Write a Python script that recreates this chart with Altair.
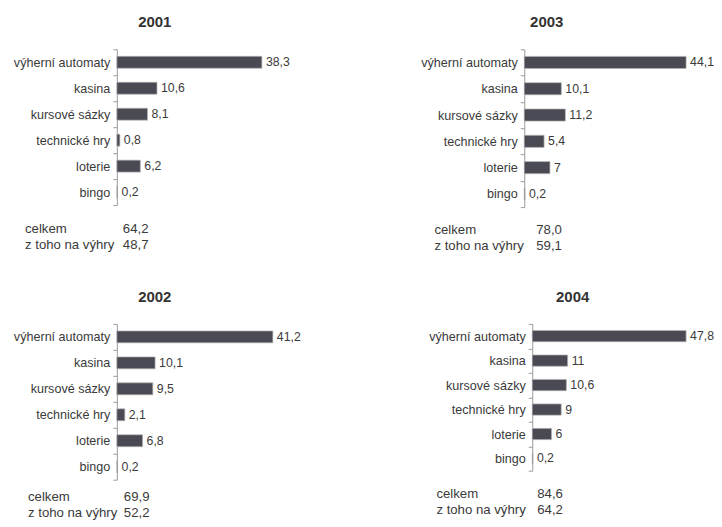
import altair as alt
import pandas as pd

categories = ["výherní automaty", "kasina", "kursové sázky", "technické hry", "loterie", "bingo"]
years = ["2001", "2002", "2003", "2004"]
values_2001 = [38.3, 10.6, 8.1, 0.8, 6.2, 0.2]
values_2002 = [41.2, 10.1, 9.5, 2.1, 6.8, 0.2]
values_2003 = [44.1, 10.1, 11.2, 5.4, 7, 0.2]
values_2004 = [47.8, 11, 10.6, 9, 6, 0.2]
summary_labels = ["celkem", "z toho na výhry"]
celkem = [64.2, 69.9, 78.0, 84.6]
na_vyhry = [48.7, 52.2, 59.1, 64.2]

FONT = "Liberation Sans"
BAR = "#4a4a54"
TEXT = "#3a3a3a"
AXIS = "#9c9c9c"


def cz(v, fixed=False):
    if fixed:
        s = f"{v:.1f}"
    elif isinstance(v, int):
        s = str(v)
    else:
        s = f"{v:g}"
    return s.replace(".", ",")


def panel(year, vals, total, wins, width, height, xmax, title_dx, lab_x, val_x, sum_dy):
    df = pd.DataFrame({
        "kategorie": categories,
        "hodnota": vals,
        "popisek": [cz(v) for v in vals],
    })
    y = alt.Y(
        "kategorie:N", sort=categories, title=None,
        scale=alt.Scale(paddingInner=0, paddingOuter=0),
        axis=alt.Axis(
            domainColor=AXIS, domainWidth=1, tickColor=AXIS, tickSize=4,
            tickBand="extent", labelFont=FONT, labelFontSize=12.6,
            labelColor=TEXT, labelPadding=3, minExtent=107, maxExtent=107,
            labelLimit=200,
        ),
    )
    x = alt.X("hodnota:Q", scale=alt.Scale(domain=[0, xmax], nice=False), axis=None)
    base = alt.Chart(df).encode(y=y, x=x)
    bars = base.mark_bar(
        fill=BAR, stroke="#b4b4b4", strokeWidth=0.7,
        height=alt.RelativeBandSize(0.46),
    )
    labels = base.mark_text(
        align="left", baseline="middle", dx=4, font=FONT, fontSize=12.3, color=TEXT
    ).encode(text="popisek:N")
    sdf = pd.DataFrame({
        "popis": ["\n".join(summary_labels)],
        "cislo": ["\n".join([cz(total, True), cz(wins, True)])],
    })
    s1 = alt.Chart(sdf).mark_text(
        align="left", baseline="top", font=FONT, fontSize=13.2, color=TEXT,
        lineBreak="\n", lineHeight=16,
    ).encode(x=alt.value(lab_x), y=alt.value(height + sum_dy), text="popis:N")
    s2 = alt.Chart(sdf).mark_text(
        align="left", baseline="top", font=FONT, fontSize=13.2, color=TEXT,
        lineBreak="\n", lineHeight=16,
    ).encode(x=alt.value(val_x), y=alt.value(height + sum_dy), text="cislo:N")
    return alt.layer(bars, labels, s1, s2).properties(
        width=width, height=height,
        title=alt.TitleParams(
            text=year, font=FONT, fontSize=15, fontWeight="bold", color="#333333",
            anchor="middle", frame="group", offset=13, dx=title_dx,
        ),
    )


p2001 = panel(years[0], values_2001, celkem[0], na_vyhry[0], 190, 156, 50.1, -57, -92, 6, 18)
p2003 = panel(years[2], values_2003, celkem[2], na_vyhry[2], 165, 158, 44.9, -60, -90, 12, 17)
p2002 = panel(years[1], values_2002, celkem[1], na_vyhry[1], 190, 156, 50.1, -57, -89, 7, 11)
p2004 = panel(years[3], values_2004, celkem[3], na_vyhry[3], 165, 147, 51.2, -42, -96, 5, 17)

top = alt.hconcat(p2001, p2003, spacing=111)
bottom = alt.hconcat(p2002, p2004, spacing=119)

chart = alt.vconcat(top, bottom, spacing=37).properties(
    padding={"left": 2, "top": 7, "right": 0, "bottom": 0}
).configure_view(strokeWidth=0)

chart.save("out.html", embed_options={"renderer": "svg", "actions": False})
